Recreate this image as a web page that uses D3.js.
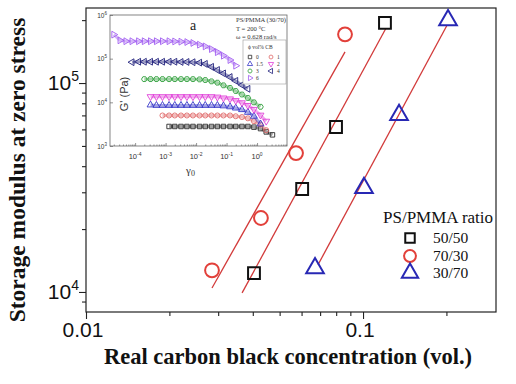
<!DOCTYPE html>
<html>
<head>
<meta charset="utf-8">
<script src="https://cdn.jsdelivr.net/npm/d3@7"></script>
<style>
body { margin: 0; background: #fff; }
svg { display: block; }
</style>
</head>
<body>
<svg id="chart" width="516" height="384"></svg>
<script>
// main plot: storage modulus vs real CB concentration
const ratios = ['50/50', '70/30', '30/70'];
const conc5050 = [0.0404, 0.0603, 0.0799, 0.120];
const mod5050 = [1.23e4, 3.11e4, 6.16e4, 1.94e5];
const conc7030 = [0.0285, 0.0428, 0.0573, 0.0861];
const mod7030 = [1.27e4, 2.26e4, 4.62e4, 1.71e5];
const conc3070 = [0.0671, 0.1008, 0.1349, 0.2027];
const mod3070 = [1.30e4, 3.15e4, 7.03e4, 2.00e5];
// fitted lines, start and end of each (same order as ratios)
const fitConc = [[0.0366, 0.121], [0.0285, 0.0861], [0.0688, 0.201]];
const fitMod = [[9.9e3, 1.83e5], [1.045e4, 1.41e5], [1.35e4, 1.89e5]];

const xMajor = [0.01, 0.1];
const xMajorLabels = ['0.01', '0.1'];
const xMinor = [0.02, 0.03, 0.04, 0.05, 0.06, 0.07, 0.08, 0.09, 0.2];
const yMajor = [1e4, 1e5];
const yMajorExp = ['4', '5'];
const yMinor = [9e3, 2e4, 3e4, 4e4, 5e4, 6e4, 7e4, 8e4, 9e4, 2e5];

// inset: G' vs strain amplitude, one array per CB loading (null = no point)
const strain = [2.0e-5, 3.2e-5, 5.0e-5, 7.9e-5, 1.3e-4, 2.0e-4, 3.2e-4, 5.0e-4, 7.9e-4,
  1.3e-3, 2.0e-3, 3.2e-3, 5.0e-3, 7.9e-3, 1.3e-2, 2.0e-2, 3.2e-2, 5.0e-2, 7.9e-2,
  0.13, 0.20, 0.32, 0.50, 0.79, 1.3, 2.0, 3.2];
const cbLabels = ['0', '1', '1.5', '2', '3', '4', '6'];
const gp0 = [null, null, null, null, null, null, null, null, null,
  2.8e3, 2.8e3, 2.8e3, 2.8e3, 2.8e3, 2.8e3, 2.8e3, 2.8e3, 2.8e3, 2.8e3,
  2.8e3, 2.8e3, 2.8e3, 2.8e3, 2.7e3, 2.5e3, 2.1e3, 1.8e3];
const gp1 = [null, null, null, null, null, null, null, null, 5.0e3,
  5.0e3, 5.0e3, 5.0e3, 5.0e3, 5.0e3, 5.0e3, 5.0e3, 5.0e3, 5.0e3, 5.0e3,
  5.0e3, 4.8e3, 4.6e3, 4.3e3, 3.7e3, 3.1e3, 2.3e3, null];
const gp15 = [null, null, null, null, null, null, 8.7e3, 8.5e3, 8.5e3,
  8.5e3, 8.5e3, 8.5e3, 8.5e3, 8.5e3, 8.5e3, 8.5e3, 8.5e3, 8.5e3, 8.3e3,
  7.9e3, 7.4e3, 6.8e3, 5.9e3, 4.8e3, 3.2e3, null, null];
const gp2 = [null, null, null, null, null, null, 1.35e4, 1.35e4, 1.35e4,
  1.35e4, 1.35e4, 1.35e4, 1.35e4, 1.35e4, 1.35e4, 1.35e4, 1.35e4, 1.32e4, 1.26e4,
  1.2e4, 1.1e4, 9.8e3, 8.5e3, 6.9e3, 5.1e3, 3.7e3, null];
const gp3 = [null, null, null, null, null, 3.4e4, 3.4e4, 3.4e4, 3.4e4,
  3.4e4, 3.4e4, 3.4e4, 3.4e4, 3.4e4, 3.35e4, 3.24e4, 3.02e4, 2.82e4, 2.45e4,
  2.14e4, 1.82e4, 1.51e4, 1.26e4, 1.0e4, 7.9e3, null, null];
const gp4 = [null, null, null, 8.3e4, 8.5e4, 8.5e4, 8.5e4, 8.5e4, 8.5e4,
  8.5e4, 8.5e4, 8.4e4, 8.4e4, 8.3e4, 8.1e4, 7.6e4, 6.5e4, 5.5e4, 4.6e4,
  3.8e4, 3.1e4, 2.5e4, 2.04e4, null, null, null, null];
const gp6 = [3.55e5, 2.63e5, 2.51e5, 2.51e5, 2.51e5, 2.51e5, 2.51e5, 2.51e5, 2.51e5,
  2.51e5, 2.48e5, 2.45e5, 2.40e5, 2.29e5, 2.09e5, 1.91e5, 1.66e5, 1.41e5, 1.17e5,
  9.3e4, 6.9e4, null, null, null, null, null, null];
const insetXMajor = [1e-4, 1e-3, 1e-2, 1e-1, 1];
const insetXExp = ['-4', '-3', '-2', '-1', '0'];
const insetYMajor = [1e3, 1e4, 1e5, 1e6];
const insetYExp = ['3', '4', '5', '6'];
const insetNotes = ['PS/PMMA (30/70)', 'T = 200 \u00B0C', '\u03C9 = 0.628 rad/s'];

const svg = d3.select('#chart');
const sans = 'Arial, "Liberation Sans", sans-serif';
const serif = '"Times New Roman", "Liberation Serif", serif';

const x = d3.scaleLog().domain([0.01, 0.302]).range([86, 496]);
const y = d3.scaleLog().domain([8020, 228600]).range([312, 8]);

// ticks
function ticks(g, axis) {
  g.call(axis);
  g.select('.domain').remove();
  g.selectAll('line').attr('stroke', '#222').attr('stroke-width', 1.1);
}
svg.append('g').attr('transform', 'translate(0,312)')
  .call(g => ticks(g, d3.axisBottom(x).tickValues(xMinor).tickSize(4).tickFormat('')));
svg.append('g').attr('transform', 'translate(0,312)')
  .call(g => ticks(g, d3.axisBottom(x).tickValues(xMajor).tickSize(7).tickFormat('')));
svg.append('g').attr('transform', 'translate(86,0)')
  .call(g => ticks(g, d3.axisLeft(y).tickValues(yMinor).tickSize(4).tickFormat('')));
svg.append('g').attr('transform', 'translate(86,0)')
  .call(g => ticks(g, d3.axisLeft(y).tickValues(yMajor).tickSize(7).tickFormat('')));

svg.append('rect')
  .attr('x', x.range()[0]).attr('y', y.range()[1])
  .attr('width', x.range()[1] - x.range()[0]).attr('height', y.range()[0] - y.range()[1])
  .attr('fill', 'none').attr('stroke', '#222').attr('stroke-width', 1.2);

svg.selectAll('.xlab').data(xMajor).enter().append('text')
  .attr('x', d => x(d) - 3).attr('y', 337)
  .attr('text-anchor', 'middle').attr('font-family', sans).attr('font-size', 21)
  .attr('fill', '#111')
  .text((d, i) => xMajorLabels[i]);

const ylab = svg.selectAll('.ylab').data(yMajor).enter().append('text')
  .attr('x', 79).attr('y', d => y(d) + 7)
  .attr('text-anchor', 'end').attr('font-family', sans).attr('font-size', 21)
  .attr('fill', '#111');
ylab.append('tspan').text('10');
ylab.append('tspan').attr('dy', -9).attr('font-size', 14).text((d, i) => yMajorExp[i]);

svg.append('text')
  .attr('x', 288).attr('y', 364).attr('text-anchor', 'middle')
  .attr('font-family', serif).attr('font-weight', 'bold').attr('font-size', 22.5)
  .attr('fill', '#111')
  .text('Real carbon black concentration (vol.)');
svg.append('text')
  .attr('transform', 'translate(25,170) rotate(-90)').attr('text-anchor', 'middle')
  .attr('font-family', serif).attr('font-weight', 'bold').attr('font-size', 23.5)
  .attr('fill', '#111')
  .text('Storage modulus at zero stress');

// fitted lines
const fitColor = '#d23a3a';
fitConc.forEach((c, i) => {
  svg.append('line')
    .attr('x1', x(c[0])).attr('y1', y(fitMod[i][0]))
    .attr('x2', x(c[1])).attr('y2', y(fitMod[i][1]))
    .attr('stroke', fitColor).attr('stroke-width', 1.3);
});

// markers
const mainSeries = [
  { conc: conc5050, mod: mod5050, color: '#111', type: d3.symbolSquare, size: 140 },
  { conc: conc7030, mod: mod7030, color: '#e2403a', type: d3.symbolCircle, size: 150 },
  { conc: conc3070, mod: mod3070, color: '#2828b4', type: d3.symbolTriangle, size: 135 }
];
mainSeries.forEach(s => {
  svg.append('g').selectAll('path').data(s.conc).enter().append('path')
    .attr('transform', (d, i) => `translate(${x(d)},${y(s.mod[i])})`)
    .attr('d', d3.symbol().type(s.type).size(s.size))
    .attr('fill', 'none').attr('stroke', s.color).attr('stroke-width', 2);
});

// legend
svg.append('text').attr('x', 383).attr('y', 223)
  .attr('font-family', serif).attr('font-size', 17).attr('fill', '#111')
  .text('PS/PMMA ratio');
const legY = [238, 256, 273];
const legSize = [90, 110, 115];
mainSeries.forEach((s, i) => {
  svg.append('path')
    .attr('transform', `translate(410,${legY[i]})`)
    .attr('d', d3.symbol().type(s.type).size(legSize[i]))
    .attr('fill', 'none').attr('stroke', s.color).attr('stroke-width', 2);
  svg.append('text').attr('x', 433).attr('y', legY[i] + 5)
    .attr('font-family', serif).attr('font-size', 15.5).attr('fill', '#111')
    .text(ratios[i]);
});

// ---- inset ----
const gx = d3.scaleLog().domain([1.5e-5, 9.6]).range([110, 287]);
const gy = d3.scaleLog().domain([1e3, 1e6]).range([146, 15]);
const inset = svg.append('g');

inset.append('rect')
  .attr('x', 110).attr('y', 15).attr('width', 177).attr('height', 131)
  .attr('fill', '#fff').attr('stroke', '#666').attr('stroke-width', 0.8);

const insetXMinor = [];
insetXMajor.forEach(v => { for (let k = 2; k < 10; k++) insetXMinor.push(v * k / 10); });
insetXMinor.push(2, 3, 4, 5, 6, 7, 8, 9);
inset.append('g').attr('transform', 'translate(0,146)')
  .call(g => ticks(g, d3.axisTop(gx).tickValues(insetXMinor.filter(v => v > 1.5e-5)).tickSize(1.5).tickFormat('')));
inset.append('g').attr('transform', 'translate(0,146)')
  .call(g => ticks(g, d3.axisTop(gx).tickValues(insetXMajor).tickSize(3).tickFormat('')));
inset.append('g').attr('transform', 'translate(110,0)')
  .call(g => ticks(g, d3.axisRight(gy).tickValues(insetYMajor).tickSize(3).tickFormat('')));
inset.selectAll('line').attr('stroke', '#666').attr('stroke-width', 0.7);

const ixl = inset.selectAll('.ixl').data(insetXMajor).enter().append('text')
  .attr('x', d => gx(d)).attr('y', 159).attr('text-anchor', 'middle')
  .attr('font-family', sans).attr('font-size', 7.5).attr('fill', '#333');
ixl.append('tspan').text('10');
ixl.append('tspan').attr('dy', -3).attr('font-size', 5).text((d, i) => insetXExp[i]);

const iyl = inset.selectAll('.iyl').data(insetYMajor).enter().append('text')
  .attr('x', 107).attr('y', d => gy(d) + 2.5).attr('text-anchor', 'end')
  .attr('font-family', sans).attr('font-size', 6.5).attr('fill', '#333');
iyl.append('tspan').text('10');
iyl.append('tspan').attr('dy', -3).attr('font-size', 4.5).text((d, i) => insetYExp[i]);

inset.append('text')
  .attr('transform', 'translate(128,94) rotate(-90)').attr('text-anchor', 'middle')
  .attr('font-family', sans).attr('font-size', 11).attr('fill', '#333')
  .text("G' (Pa)");
const gam = inset.append('text').attr('x', 186).attr('y', 174)
  .attr('font-family', serif).attr('font-size', 11).attr('fill', '#333');
gam.append('tspan').text('\u03B3');
gam.append('tspan').attr('dy', 2).attr('font-size', 8).text('0');

inset.append('text').attr('x', 193).attr('y', 30).attr('text-anchor', 'middle')
  .attr('font-family', serif).attr('font-size', 14).attr('fill', '#222').text('a');
inset.selectAll('.note').data(insetNotes).enter().append('text')
  .attr('x', 236).attr('y', (d, i) => 22 + i * 8.5)
  .attr('font-family', serif).attr('font-size', 6.6).attr('fill', '#333')
  .text(d => d);

const hexagon = {
  draw(ctx, size) {
    const r = Math.sqrt(size / 2.6);
    for (let k = 0; k < 6; k++) {
      const a = Math.PI / 3 * k;
      if (k === 0) ctx.moveTo(r * Math.cos(a), r * Math.sin(a));
      else ctx.lineTo(r * Math.cos(a), r * Math.sin(a));
    }
    ctx.closePath();
  }
};
const insetSeries = [
  { g: gp0, color: '#2a2a2a', type: d3.symbolSquare, rot: 0 },
  { g: gp1, color: '#e06a6a', type: d3.symbolCircle, rot: 0 },
  { g: gp15, color: '#3838c8', type: d3.symbolTriangle, rot: 0 },
  { g: gp2, color: '#e040d8', type: d3.symbolTriangle, rot: 180 },
  { g: gp3, color: '#2e9e3a', type: hexagon, rot: 0 },
  { g: gp4, color: '#1e1e7a', type: d3.symbolTriangle, rot: -90 },
  { g: gp6, color: '#a05cf0', type: d3.symbolTriangle, rot: 90 }
];
const gline = d3.line()
  .defined(d => d[1] != null)
  .x(d => gx(d[0])).y(d => gy(d[1]));
insetSeries.forEach(s => {
  const pts = strain.map((v, i) => [v, s.g[i]]);
  inset.append('path').attr('d', gline(pts))
    .attr('fill', 'none').attr('stroke', s.color).attr('stroke-width', 3).attr('opacity', 0.45);
  inset.append('g').selectAll('path').data(pts.filter(d => d[1] != null)).enter().append('path')
    .attr('transform', d => `translate(${gx(d[0])},${gy(d[1])}) rotate(${s.rot})`)
    .attr('d', d3.symbol().type(s.type).size(20))
    .attr('fill', 'none').attr('stroke', s.color).attr('stroke-width', 0.9);
});

// inset legend
inset.append('rect').attr('x', 243).attr('y', 40).attr('width', 43).attr('height', 44)
  .attr('fill', '#fff').attr('stroke', '#999').attr('stroke-width', 0.6);
inset.append('text').attr('x', 248).attr('y', 49)
  .attr('font-family', serif).attr('font-size', 5.5).attr('fill', '#333')
  .text('\u03D5 vol% CB');
insetSeries.forEach((s, i) => {
  const cx = i % 2 === 0 ? 250 : 271;
  const cy = 57 + Math.floor(i / 2) * 7;
  inset.append('path')
    .attr('transform', `translate(${cx},${cy}) rotate(${s.rot})`)
    .attr('d', d3.symbol().type(s.type).size(12))
    .attr('fill', 'none').attr('stroke', s.color).attr('stroke-width', 0.8);
  inset.append('text').attr('x', cx + 6).attr('y', cy + 2)
    .attr('font-family', serif).attr('font-size', 5.5).attr('fill', '#333')
    .text(cbLabels[i]);
});
</script>
</body>
</html>
